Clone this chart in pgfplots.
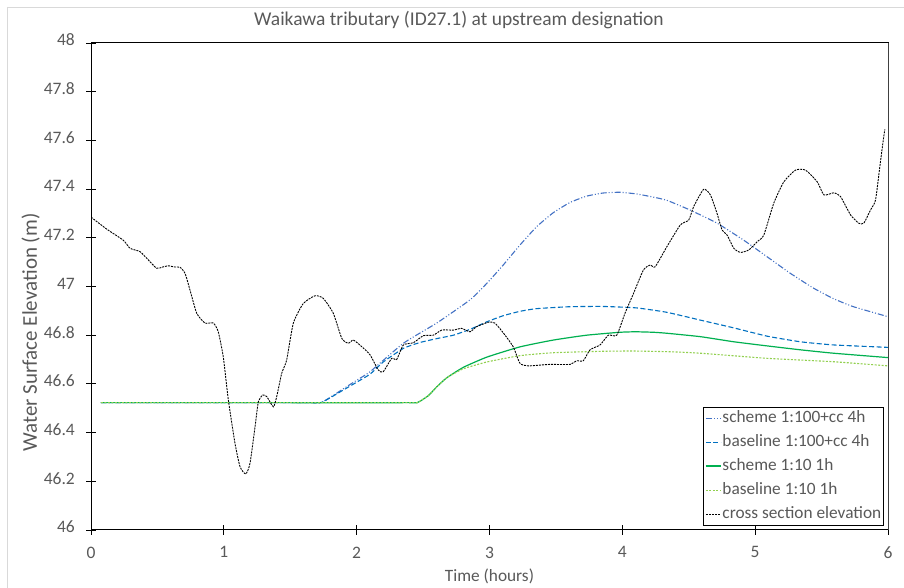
\documentclass[border=0pt]{standalone}
\usepackage{pgfplots}
\pgfplotsset{compat=1.18}
\usepackage{fontspec}
\setmainfont{Carlito}
\definecolor{txtgrey}{HTML}{595959}
\definecolor{schemeblue}{HTML}{4472C4}
\definecolor{baseblue}{HTML}{0070C0}
\definecolor{schemegreen}{HTML}{00B050}
\definecolor{basegreen}{HTML}{92D050}
\definecolor{frame}{HTML}{D9D9D9}
\begin{document}
\begin{tikzpicture}[x=1pt,y=1pt]
\useasboundingbox (0,0) rectangle (904,588);
\draw[frame, line width=0.8pt] (7,581) -- (920,581);
\draw[frame, line width=0.8pt] (7,581) -- (7,-20);
\begin{axis}[
  scale only axis,
  width=797pt, height=487pt,
  at={(91pt,58pt)}, anchor=south west,
  xmin=0, xmax=6, ymin=46, ymax=48,
  xtick={0,1,2,3,4,5,6},
  ytick={46,46.2,46.4,46.6,46.8,47,47.2,47.4,47.6,47.8,48},
  xtick pos=bottom, ytick pos=left,
  tick align=center,
  major tick length=10pt,
  tick style={black, line width=0.8pt},
  axis line style={black, line width=1pt},
  extra description/.code={
    \draw[black, line width=1pt] (rel axis cs:0,1) -- (rel axis cs:1,1);
    \draw[black!75, line width=1pt] (rel axis cs:1,1) -- (rel axis cs:1,0);
  },
  /pgf/number format/assume math mode=true,
  /pgf/number format/.cd, fixed, precision=1, /pgfplots/.cd,
  ticklabel style={font=\fontsize{17.5}{20}\selectfont, text=txtgrey},
  xticklabel style={anchor=north, inner sep=0pt, yshift=-11.5pt},
  yticklabel style={anchor=east, inner sep=0pt, xshift=-11pt, yshift=3pt},
  title={Waikawa tributary (ID27.1) at upstream designation},
  title style={at={(axis description cs:0.4617,1)}, anchor=base, yshift=11pt,
    font=\fontsize{19.5}{22}\selectfont, text=txtgrey},
  xlabel={Time (hours)},
  xlabel style={at={(axis description cs:0.5,0)}, anchor=base, yshift=-51.7pt,
    font=\fontsize{17.3}{20}\selectfont, text=txtgrey},
  ylabel={Water Surface Elevation (m)},
  every axis y label/.style={at={(axis description cs:-0.0678,0.4055)}, rotate=90, anchor=base,
    font=\fontsize{21}{24}\selectfont, text=txtgrey},
  legend cell align=left,
  legend image code/.code={\draw[#1] (0pt,0pt) -- (15pt,0pt);},
  legend style={at={(rel axis cs:0.995,0.009)}, anchor=south east,
    draw=black, line width=0.6pt, inner sep=1.5pt, row sep=4.5pt,
    font=\fontsize{17.3}{20}\selectfont, text=txtgrey,
    nodes={inner sep=1pt, text height=13pt, text depth=4.5pt}},
]
\addplot[schemeblue, line width=1.1pt, smooth, tension=0.3, dash pattern=on 6pt off 2pt on 1pt off 2pt on 1pt off 2pt] coordinates {
(0.075,46.523) (1.0,46.523) (1.65,46.523) (1.737,46.524) (1.9,46.58) (2.0,46.615) (2.101,46.65) (2.352,46.767)
(2.603,46.85) (2.853,46.945) (2.98,47.013) (3.103,47.088) (3.229,47.17) (3.354,47.245)
(3.48,47.303) (3.606,47.345) (3.731,47.371) (3.857,47.384) (3.982,47.387) (4.108,47.38)
(4.234,47.367) (4.335,47.354) (4.51,47.314) (4.713,47.26) (4.914,47.19) (5.09,47.122)
(5.265,47.054) (5.44,46.993) (5.59,46.95) (5.74,46.917) (6.0,46.876)};
\addlegendentry{scheme 1:100+cc 4h}
\addplot[baseblue, line width=1.1pt, smooth, tension=0.3, dash pattern=on 5pt off 2.5pt] coordinates {
(0.075,46.523) (1.0,46.523) (1.65,46.523) (1.737,46.524) (1.9,46.575) (2.0,46.607) (2.101,46.64) (2.2,46.69)
(2.352,46.746) (2.477,46.77) (2.603,46.786) (2.728,46.80) (2.853,46.824) (2.98,46.855)
(3.103,46.88) (3.229,46.898) (3.354,46.909) (3.606,46.917) (3.857,46.918) (4.108,46.912)
(4.335,46.894) (4.587,46.862) (4.839,46.83) (5.09,46.796) (5.34,46.773) (5.59,46.76) (6.0,46.75)};
\addlegendentry{baseline 1:100+cc 4h}
\addplot[schemegreen, line width=1.2pt, smooth, tension=0.3] coordinates {
(0.075,46.523) (1.2,46.523) (2.38,46.523) (2.46,46.524) (2.54,46.552) (2.603,46.588) (2.678,46.625)
(2.803,46.668) (2.98,46.71) (3.229,46.752) (3.48,46.78) (3.731,46.80) (3.982,46.812)
(4.1,46.814) (4.234,46.812) (4.335,46.808) (4.587,46.794) (4.839,46.773) (5.09,46.756)
(5.34,46.74) (5.59,46.726) (6.0,46.708)};
\addlegendentry{scheme 1:10 1h}
\addplot[basegreen, line width=1.1pt, smooth, tension=0.3, dash pattern=on 2pt off 1.5pt] coordinates {
(0.075,46.523) (1.2,46.523) (2.38,46.523) (2.46,46.524) (2.54,46.552) (2.603,46.588) (2.678,46.625)
(2.803,46.662) (2.98,46.69) (3.229,46.716) (3.48,46.728) (3.857,46.734) (4.083,46.735)
(4.36,46.732) (4.587,46.726) (5.09,46.705) (5.59,46.691) (6.0,46.674)};
\addlegendentry{baseline 1:10 1h}
\addplot[black, line width=0.9pt, smooth, tension=0.35, dash pattern=on 2pt off 1pt] coordinates {
(0,47.285) (0.12,47.235) (0.243,47.19) (0.294,47.157) (0.369,47.143) (0.43,47.11)
(0.494,47.075) (0.54,47.08) (0.582,47.085) (0.63,47.08) (0.67,47.079) (0.708,47.054)
(0.745,46.986) (0.796,46.89) (0.858,46.85) (0.921,46.85) (0.958,46.814) (0.996,46.71)
(1.034,46.534) (1.084,46.356) (1.122,46.26) (1.165,46.23) (1.197,46.274) (1.235,46.424)
(1.26,46.527) (1.293,46.554) (1.323,46.548) (1.373,46.506) (1.398,46.548) (1.436,46.644)
(1.473,46.698) (1.523,46.849) (1.598,46.93) (1.687,46.962) (1.749,46.951) (1.824,46.89)
(1.888,46.787) (1.937,46.767) (1.975,46.78) (2.038,46.753) (2.1,46.72) (2.163,46.657)
(2.2,46.65) (2.264,46.705) (2.301,46.70) (2.352,46.76) (2.427,46.769) (2.502,46.798)
(2.577,46.80) (2.64,46.821) (2.728,46.821) (2.79,46.828) (2.853,46.814) (2.903,46.835)
(2.99,46.853) (3.04,46.85) (3.103,46.81) (3.178,46.753) (3.229,46.685) (3.291,46.674)
(3.45,46.68) (3.606,46.68) (3.656,46.695) (3.706,46.695) (3.757,46.74) (3.832,46.76)
(3.895,46.80) (3.958,46.80) (4.02,46.89) (4.083,46.97) (4.159,47.068) (4.21,47.088)
(4.247,47.081) (4.335,47.163) (4.437,47.253) (4.5,47.273) (4.537,47.328) (4.612,47.399)
(4.663,47.376) (4.713,47.30) (4.751,47.232) (4.789,47.211) (4.839,47.157) (4.889,47.14)
(4.952,47.15) (5.015,47.184) (5.065,47.211) (5.14,47.342) (5.216,47.43) (5.304,47.478)
(5.379,47.478) (5.467,47.43) (5.518,47.376) (5.593,47.385) (5.643,47.369) (5.718,47.294)
(5.78,47.26) (5.818,47.26) (5.868,47.314) (5.906,47.355) (5.938,47.49) (5.964,47.60) (5.976,47.645)};
\addlegendentry{cross section elevation}
\end{axis}
\end{tikzpicture}
\end{document}
